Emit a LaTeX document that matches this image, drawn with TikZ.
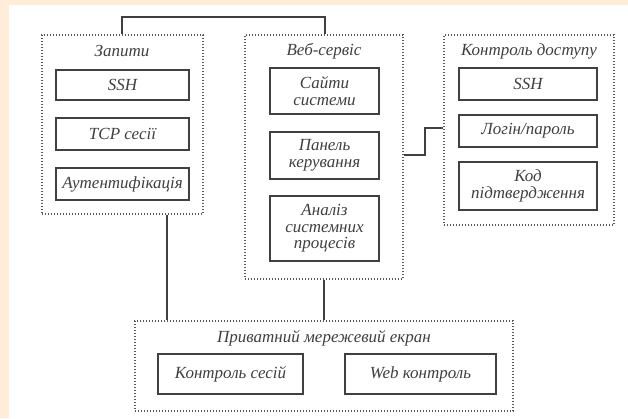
\documentclass[tikz,border=0pt]{standalone}
\usepackage{fontspec}
\setmainfont{Liberation Serif}
\begin{document}
\begin{tikzpicture}[x=1pt,y=-1pt,
  inbox/.style={draw=black!75,line width=1.1pt,fill=white,inner sep=0pt,align=center},
  grp/.style={draw=black!65,line width=1.3pt,dash pattern=on 1.3pt off 1.7pt},
  conn/.style={draw=black!75,line width=1.5pt},
  lbl/.style={font=\itshape\fontsize{17}{16.5}\selectfont,text=black!75,inner sep=0pt,align=center}]
\fill[orange!15] (0,0) rectangle (628,418);
\fill[white] (9,5) rectangle (628,418);
\useasboundingbox (0,0) rectangle (628,418);
% group boxes
\node[grp,minimum width=161pt,minimum height=179pt] (g1) at (122.5,124.5) {};
\node[grp,minimum width=158pt,minimum height=244pt] (g2) at (324,157) {};
\node[grp,minimum width=170pt,minimum height=190pt] (g3) at (529,130) {};
\node[grp,minimum width=378pt,minimum height=90pt] (g4) at (324,366) {};
% titles
\node[lbl] (t1) at (122,51) {Запити};
\node[lbl] (t2) at (324,51) {Веб-сервіс};
\node[lbl] (t3) at (529,51) {Контроль доступу};
\node[lbl] (t4) at (324,338) {Приватний мережевий екран};
% left inner
\node[inbox,lbl,minimum width=133pt,minimum height=30pt] (a1) at (122.5,85) {SSH};
\node[inbox,lbl,minimum width=133pt,minimum height=32pt] (a2) at (122.5,134) {TCP сесії};
\node[inbox,lbl,minimum width=133pt,minimum height=32pt] (a3) at (122.5,184) {Аутентифікація};
% middle inner
\node[inbox,lbl,minimum width=109pt,minimum height=46pt] (b1) at (324.5,91) {Сайти\\системи};
\node[inbox,lbl,minimum width=109pt,minimum height=47pt] (b2) at (324.5,155.5) {Панель\\керування};
\node[inbox,lbl,minimum width=109pt,minimum height=65pt] (b3) at (324.5,228.5) {Аналіз\\системних\\процесів};
% right inner
\node[inbox,lbl,minimum width=138pt,minimum height=32pt] (c1) at (528,84) {SSH};
\node[inbox,lbl,minimum width=138pt,minimum height=32pt] (c2) at (528,131) {Логін/пароль};
\node[inbox,lbl,minimum width=138pt,minimum height=48pt] (c3) at (528,186) {Код\\підтвердження};
% bottom inner
\node[inbox,lbl,minimum width=145pt,minimum height=40pt] (d1) at (230.5,374) {Контроль сесій};
\node[inbox,lbl,minimum width=151pt,minimum height=40pt] (d2) at (420.5,374) {Web контроль};
% connectors
\coordinate (k1) at (122,17);
\coordinate (k2) at (325,17);
\draw[conn] (g1.north -| k1) -- (k1) -- (k2) -- (g2.north -| k2);
\coordinate (m1) at (425,155);
\coordinate (m2) at (425,128);
\draw[conn] (g2.east |- m1) -- (m1) -- (m2) -- (g3.west |- m2);
\coordinate (l1) at (167,0);
\draw[conn] (g1.south -| l1) -- (g4.north -| l1);
\draw[conn] (g2.south) -- (g4.north);
\end{tikzpicture}
\end{document}
